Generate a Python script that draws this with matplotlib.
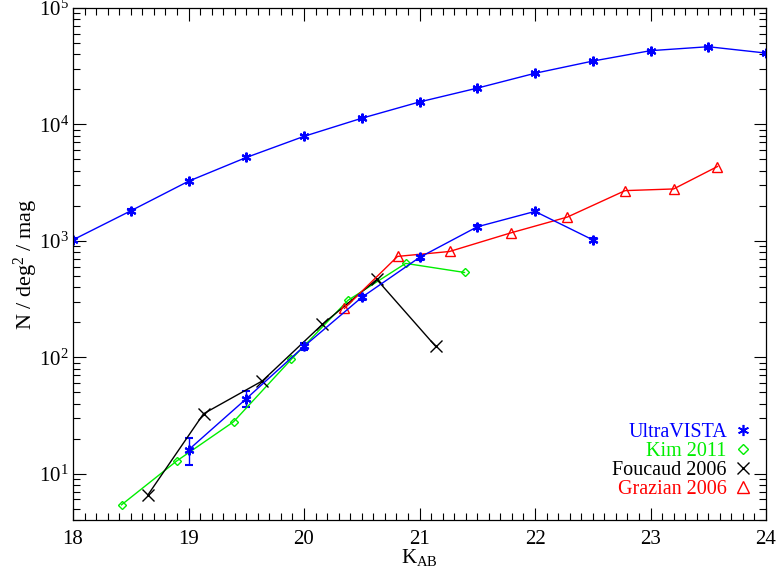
import matplotlib
matplotlib.use("Agg")
import matplotlib.pyplot as plt
import numpy as np
from matplotlib.ticker import LogLocator, NullFormatter, LogFormatterSciNotation, MultipleLocator

plt.rcParams["font.family"] = ["Liberation Serif", "DejaVu Serif"]
plt.rcParams["mathtext.fontset"] = "custom"
plt.rcParams["mathtext.rm"] = "Liberation Serif"
plt.rcParams["mathtext.it"] = "Liberation Serif:italic"

# UltraVISTA, upper curve
uv_top_k = [18.0, 18.5, 19.0, 19.5, 20.0, 20.5, 21.0, 21.5, 22.0, 22.5, 23.0, 23.5, 24.0]
uv_top_n = [1020, 1810, 3250, 5200, 7900, 11300, 15600, 20500, 27500, 35000, 43000, 46500, 41000]
uv_top_err = [40, 70, 110, 150, 200, 260, 300, 350, 420, 500, 600, 650, 600]

# UltraVISTA, lower curve
uv_low_k = [19.0, 19.5, 20.0, 20.5, 21.0, 21.5, 22.0, 22.5]
uv_low_n = [16, 44, 124, 327, 720, 1320, 1790, 1020]
uv_low_err = [4.2, 6.8, 9, 18, 30, 45, 55, 40]

# Kim 2011
kim_k = [18.42, 18.9, 19.39, 19.89, 20.38, 20.88, 21.39]
kim_n = [5.4, 12.9, 27.9, 96, 308, 640, 535]

# Foucaud 2006
fou_k = [18.65, 19.13, 19.64, 20.16, 20.63, 21.14]
fou_n = [6.6, 32.7, 62.7, 192, 466, 124]

# Grazian 2006
gra_k = [20.35, 20.81, 21.26, 21.79, 22.28, 22.78, 23.2, 23.58]
gra_n = [263, 735, 810, 1170, 1600, 2700, 2790, 4350]

fig = plt.figure(figsize=(7.78, 5.74), dpi=100)
ax = fig.add_axes([73 / 778, 1 - 520 / 574, (766 - 73) / 778, (520 - 8) / 574])

star = (6, 2, 0)
ax.errorbar(uv_top_k, uv_top_n, yerr=uv_top_err, color="blue", lw=1, marker=star,
            ms=7, mew=1.5, capsize=3, elinewidth=1)
ax.errorbar(uv_low_k, uv_low_n, yerr=uv_low_err, color="blue", lw=1, marker=star,
            ms=7, mew=1.5, capsize=3, elinewidth=1)
ax.plot(kim_k, kim_n, color="#00ee00", lw=1, marker="D", ms=4.5, mfc="none", mew=1)
ax.plot(fou_k, fou_n, color="black", lw=1, marker="x", ms=8, mew=1)
ax.plot(gra_k, gra_n, color="red", lw=1, marker="^", ms=7, mfc="none", mew=1)

# legend handles: markers only
h_uv, = ax.plot([], [], ls="none", color="blue", marker=star, ms=8, mew=1.2, label="UltraVISTA")
h_kim, = ax.plot([], [], ls="none", color="#00ee00", marker="D", ms=5, mfc="none", label="Kim 2011")
h_fou, = ax.plot([], [], ls="none", color="black", marker="x", ms=8, label="Foucaud 2006")
h_gra, = ax.plot([], [], ls="none", color="red", marker="^", ms=8, mfc="none", label="Grazian 2006")
leg = ax.legend(handles=[h_uv, h_kim, h_fou, h_gra], loc="lower right", frameon=False,
                markerfirst=False, labelcolor="linecolor", fontsize=14.5,
                handlelength=0.8, handletextpad=0.4, labelspacing=0.0,
                borderaxespad=0.0, bbox_to_anchor=(0.99, 0.025))

ax.set_xlim(18, 24)
ax.set_yscale("log")
ax.set_ylim(4, 1e5)

ax.xaxis.set_major_locator(MultipleLocator(1))
ax.xaxis.set_minor_locator(MultipleLocator(0.1))
ax.yaxis.set_major_locator(LogLocator(base=10))
ax.yaxis.set_major_formatter(LogFormatterSciNotation())
ax.yaxis.set_minor_locator(LogLocator(base=10, subs=np.arange(2, 10)))
ax.yaxis.set_minor_formatter(NullFormatter())

ax.tick_params(which="both", direction="in", top=True, right=True, width=0.8, labelsize=15)
ax.tick_params(which="major", length=9)
ax.tick_params(which="minor", length=5)
ax.tick_params(axis="x", pad=7)
ax.tick_params(axis="y", pad=3)
for s in ax.spines.values():
    s.set_linewidth(0.9)

ax.set_xlabel(r"K$_{\mathrm{AB}}$", fontsize=15, labelpad=-1)
ax.set_ylabel(r"N / deg$^2$ / mag", fontsize=16, labelpad=-1)

fig.savefig("out.png", dpi=100)
